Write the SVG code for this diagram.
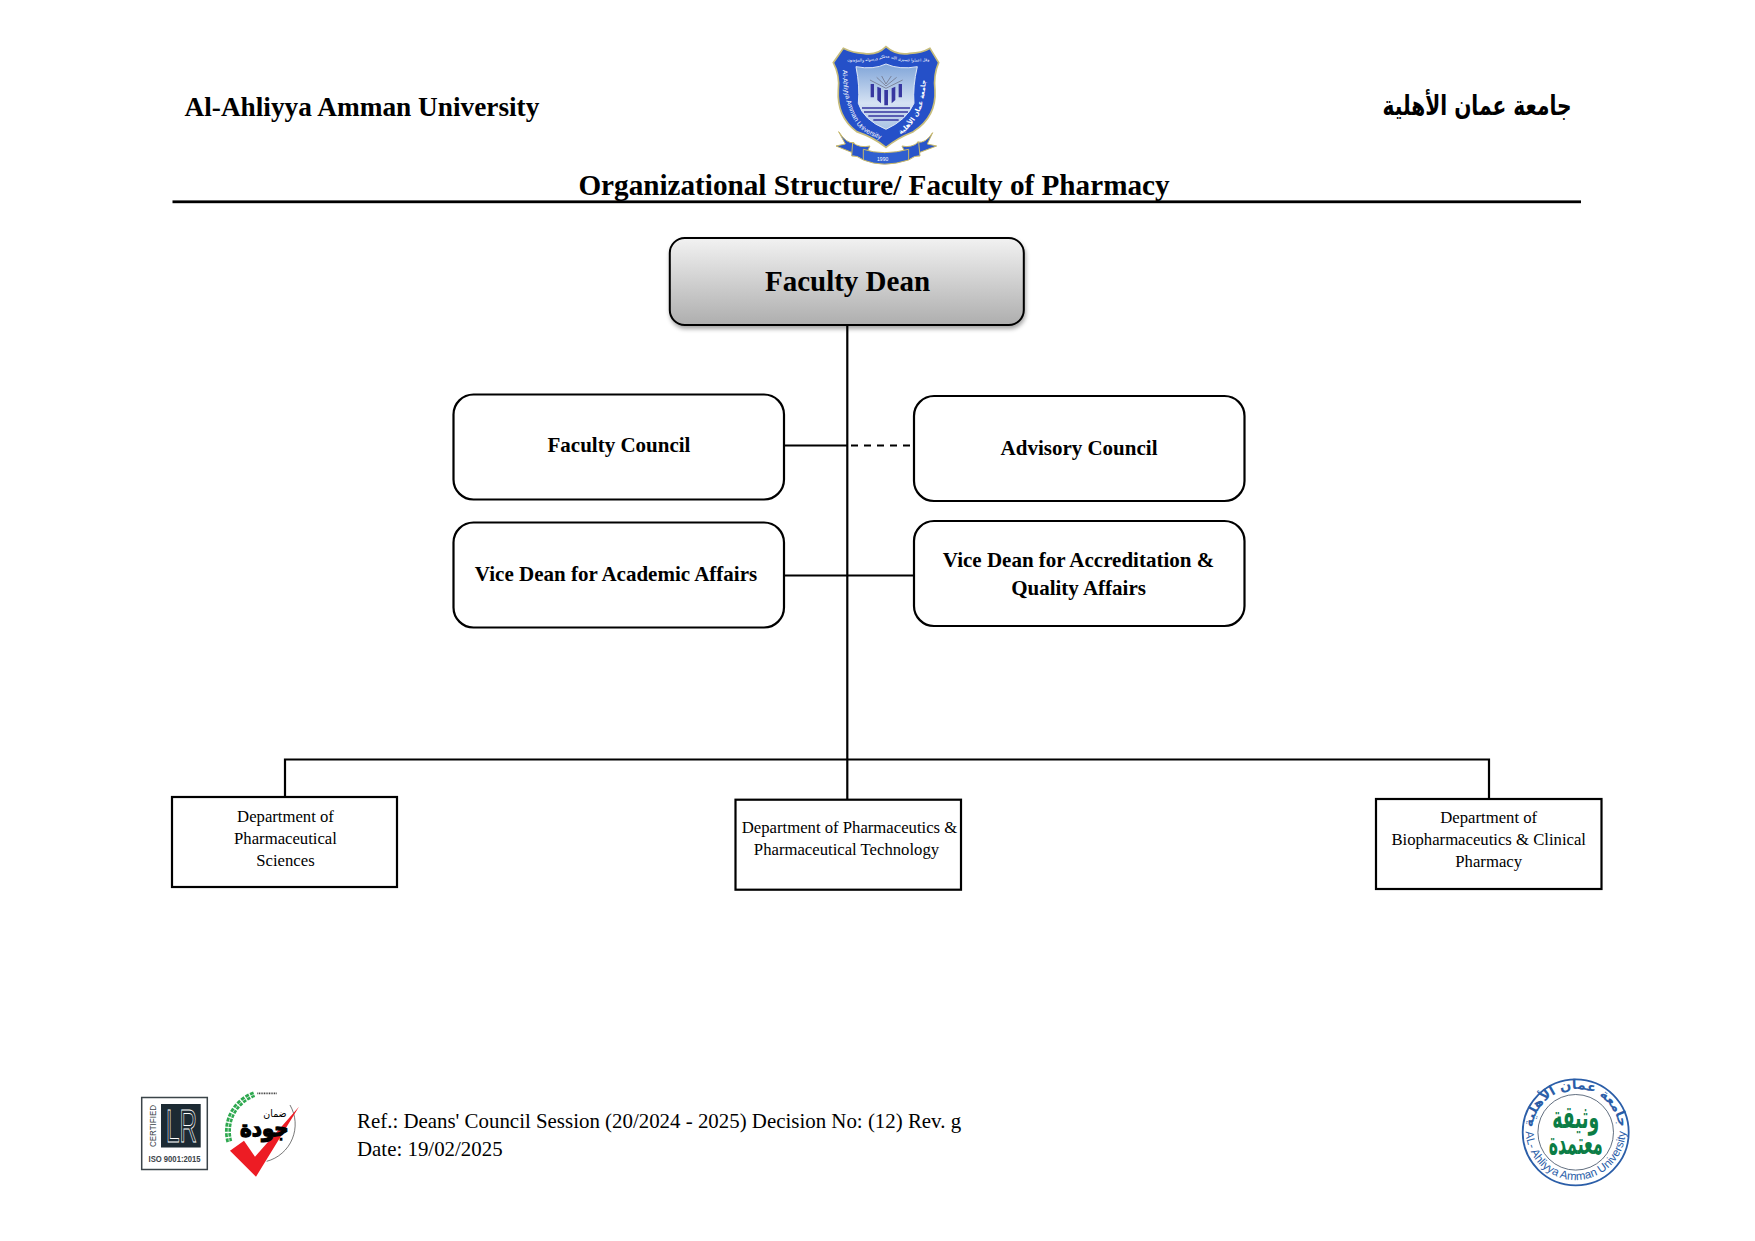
<svg xmlns="http://www.w3.org/2000/svg" width="1755" height="1241" viewBox="0 0 1755 1241">
<style>
text{font-family:"Liberation Serif","Times New Roman",serif;fill:#000}
.b{font-weight:bold}
.m{text-anchor:middle}
.ar{font-family:"DejaVu Sans","Noto Sans",sans-serif;font-weight:bold}
.hd{font-size:27.3px}
.ttl{font-size:29.2px}
.lead{font-size:21px}
.dept{font-size:16.7px}
.ref{font-size:20.9px}
.box{fill:#fff;stroke:#000;stroke-width:2.2}
.ln{fill:none;stroke:#000;stroke-width:2.2}
.san{font-family:"Liberation Sans",Arial,sans-serif}
</style>
<defs>
<linearGradient id="deanG" x1="0" y1="0" x2="0" y2="1"><stop offset="0" stop-color="#f2f2f2"/><stop offset="1" stop-color="#aeaeae"/></linearGradient>
<linearGradient id="panelG" x1="0" y1="0" x2="0" y2="1"><stop offset="0" stop-color="#7fa4d8"/><stop offset=".6" stop-color="#d5e2f3"/><stop offset="1" stop-color="#a9c3e4"/></linearGradient>
<filter id="sh" x="-5%" y="-10%" width="110%" height="125%"><feDropShadow dx="1" dy="3" stdDeviation="2" flood-color="#000" flood-opacity=".35"/></filter>
<path id="shL" d="M428 150Q428 260 480 325Q505 345 552 362" fill="none"/>
<path id="shR" d="M566 362Q640 335 668 250Q682 190 674 140" fill="none"/>
<path id="shT" d="M436 122Q500 130 558 112Q620 130 694 122" fill="none"/>
<path id="sealT" d="M1532.7 1139A43.5 43.5 0 1 1 1618.7 1139" fill="none"/>
<path id="sealB" d="M1525.7 1130A50 50 0 0 0 1625.7 1130" fill="none"/>
</defs>

<g id="connectors">
<path class="ln" d="M847.3 325V800M285 797V759.5H1489V799M784 445.5H847.3M784 575.5H919"/>
<path class="ln" stroke-dasharray="7 6" d="M851 445.5H918"/>
</g>

<g id="header">
<text class="b hd" x="184.5" y="116">Al-Ahliyya Amman University</text>
<text class="ar" x="1477" y="115" font-size="27" text-anchor="middle" direction="rtl" textLength="189" lengthAdjust="spacingAndGlyphs">جامعة عمان الأهلية</text>
<text class="b ttl" x="874" y="195" text-anchor="middle">Organizational Structure/ Faculty of Pharmacy</text>
<rect x="172.5" y="200.4" width="1408.5" height="2.8" fill="#000"/>
</g>

<g id="logo-university" transform="translate(700 20) scale(.3333)">
<path d="M416 335Q440 372 462 368L462 400L408 378L436 372Z" fill="#2a55c9" stroke="#c8b868" stroke-width="3"/>
<path d="M698 338Q676 372 652 366L652 400L710 378L682 372Z" fill="#2a55c9" stroke="#c8b868" stroke-width="3"/>
<path d="M458 368Q480 385 510 378L490 420Q470 405 455 408Z" fill="#2a55c9" stroke="#c8b868" stroke-width="3"/>
<path d="M656 366Q634 385 606 378L626 420Q646 405 660 408Z" fill="#2a55c9" stroke="#c8b868" stroke-width="3"/>
<path d="M490 388Q550 408 626 388L626 420Q550 445 490 420Z" fill="#2f5fd0" stroke="#c8b868" stroke-width="3"/>
<path d="M558 80Q590 108 630 100Q665 100 690 85L716 128Q700 165 705 210Q710 290 640 335Q590 355 558 382Q520 352 470 335Q410 290 415 210Q420 165 400 128L430 85Q460 100 490 100Q530 108 558 80Z" fill="#2550c8" stroke="#c7bd7c" stroke-width="5"/>
<path d="M468 140Q520 150 558 132Q600 150 652 140Q638 200 642 250Q620 300 558 328Q490 300 475 250Q480 200 468 140Z" fill="url(#panelG)" stroke="#dfe8f6" stroke-width="3"/>
<g fill="#3636a0">
<path d="M512 192H522V232H512ZM532 200L543 205V250L532 240ZM553 210H564V256H553ZM575 205L586 200V240L575 250ZM596 192H606V232H596Z"/>
</g>
<path d="M510 180L558 205L608 180M530 172L558 198L590 172M545 168L558 192L574 168" fill="none" stroke="#667" stroke-width="2"/>
<path d="M486 264H630M492 276H624M505 288H612M520 300H596" fill="none" stroke="#3636a0" stroke-width="4"/>
<text class="san" font-size="20" style="fill:#fff"><textPath href="#shL">Al-Ahliyya Amman University</textPath></text>
<text class="ar" font-size="20" style="fill:#fff" direction="rtl"><textPath href="#shR" startOffset="50%" text-anchor="middle">جامعة عمان الأهلية</textPath></text>
<text class="ar" font-size="12" style="fill:#fff;font-weight:normal" direction="rtl"><textPath href="#shT" startOffset="50%" text-anchor="middle">وقل اعملوا فسيرى الله عملكم ورسوله والمؤمنون</textPath></text>
<text x="548" y="422" class="m san" font-size="15" style="fill:#fff">1990</text>
</g>

<g id="faculty-dean">
<rect x="669.8" y="238" width="354" height="87" rx="15" fill="url(#deanG)" stroke="#000" stroke-width="2" filter="url(#sh)"/>
<text class="b m" x="847.5" y="290.5" font-size="29">Faculty Dean</text>
</g>
<g id="faculty-council">
<rect class="box" x="453.5" y="394.5" width="330.5" height="105" rx="20"/>
<text class="b m lead" x="619" y="452">Faculty Council</text>
</g>
<g id="advisory-council">
<rect class="box" x="914" y="396" width="330.5" height="105" rx="20"/>
<text class="b m lead" x="1079" y="454.5">Advisory Council</text>
</g>
<g id="vice-dean-academic">
<rect class="box" x="453.5" y="522.5" width="330.5" height="105" rx="20"/>
<text class="b m lead" x="616" y="580.5">Vice Dean for Academic Affairs</text>
</g>
<g id="vice-dean-accreditation">
<rect class="box" x="914" y="521" width="330.5" height="105" rx="20"/>
<text class="b m lead" x="1078.5" y="566.5">Vice Dean for Accreditation &amp;</text>
<text class="b m lead" x="1078.5" y="594.5">Quality Affairs</text>
</g>
<g id="dept-sciences">
<rect class="box" x="172" y="797" width="225" height="90"/>
<text class="m dept" x="285.5" y="821.5">Department of</text>
<text class="m dept" x="285.5" y="843.5">Pharmaceutical</text>
<text class="m dept" x="285.5" y="865.5">Sciences</text>
</g>
<g id="dept-pharmaceutics">
<rect class="box" x="735.5" y="799.7" width="225.5" height="90"/>
<text class="m dept" x="849.5" y="832.5">Department of Pharmaceutics &amp;</text>
<text class="m dept" x="846.5" y="854.5">Pharmaceutical Technology</text>
</g>
<g id="dept-biopharmaceutics">
<rect class="box" x="1376" y="799" width="225.5" height="90"/>
<text class="m dept" x="1488.7" y="822.5">Department of</text>
<text class="m dept" x="1488.7" y="844.5">Biopharmaceutics &amp; Clinical</text>
<text class="m dept" x="1488.7" y="866.5">Pharmacy</text>
</g>

<g id="footer">
<text class="ref" x="357" y="1127.5">Ref.: Deans' Council Session (20/2024 - 2025) Decision No: (12) Rev. g</text>
<text class="ref" x="357" y="1155.5">Date: 19/02/2025</text>
</g>

<g id="logo-lr">
<rect x="141.7" y="1097.5" width="65.6" height="72" fill="#fff" stroke="#3b4449" stroke-width="1.5"/>
<rect x="161" y="1104" width="39.7" height="43.5" fill="#1c2a33"/>
<text class="san" x="166" y="1141.5" font-size="46" style="fill:#1c2a33;stroke:#fff;stroke-width:.9" textLength="31" lengthAdjust="spacingAndGlyphs">LR</text>
<text class="san m" transform="translate(155.5 1126) rotate(-90)" font-size="9" textLength="42" lengthAdjust="spacingAndGlyphs" style="fill:#3b4449">CERTIFIED</text>
<text class="san m" x="174.5" y="1161.5" font-size="8.8" textLength="52" lengthAdjust="spacingAndGlyphs" style="fill:#3b4449;font-weight:bold">ISO 9001:2015</text>
</g>

<g id="logo-quality" transform="translate(120 1060) scale(.3333)">
<path d="M328 245A118 118 0 0 1 405 102" fill="none" stroke="#2ea84f" stroke-width="18" stroke-dasharray="11 4"/>
<path d="M328 245A118 118 0 0 1 405 102" fill="none" stroke="#fff" stroke-width="2"/>
<path d="M412 100H470" fill="none" stroke="#444" stroke-width="5" stroke-dasharray="3 2"/>
<path d="M510 135A115 115 0 0 1 440 304" fill="none" stroke="#333" stroke-width="2"/>
<path d="M330 272L372 242L405 290L537 140L408 350Z" fill="#ed1c24"/>
<text class="ar" x="433" y="228" font-size="66" text-anchor="middle" direction="rtl" style="stroke:#000;stroke-width:4" textLength="146" lengthAdjust="spacingAndGlyphs">جودة</text>
<text class="ar" x="465" y="172" font-size="30" text-anchor="middle" direction="rtl" style="font-weight:normal" textLength="70" lengthAdjust="spacingAndGlyphs">ضمان</text>
</g>

<g id="logo-seal">
<circle cx="1575.7" cy="1132.3" r="53" fill="#fff" stroke="#2b5ea8" stroke-width="1.8"/>
<circle cx="1575.7" cy="1132.3" r="37.8" fill="none" stroke="#3a4a60" stroke-width=".8"/>
<text class="ar" font-size="13.5" direction="rtl" style="fill:#2b5ea8"><textPath href="#sealT" startOffset="50%" text-anchor="middle">جامعة عمان الأهلية</textPath></text>
<text class="san" font-size="11.5" style="fill:#2b5ea8"><textPath href="#sealB" startOffset="50%" text-anchor="middle">AL- Ahliyya Amman University</textPath></text>
<text class="ar m" x="1575.7" y="1128" font-size="31" direction="rtl" style="fill:#0b7d45" textLength="47" lengthAdjust="spacingAndGlyphs">وثيقة</text>
<text class="ar m" x="1575.7" y="1154" font-size="31" direction="rtl" style="fill:#0b7d45" textLength="54" lengthAdjust="spacingAndGlyphs">معتمدة</text>
</g>
</svg>
